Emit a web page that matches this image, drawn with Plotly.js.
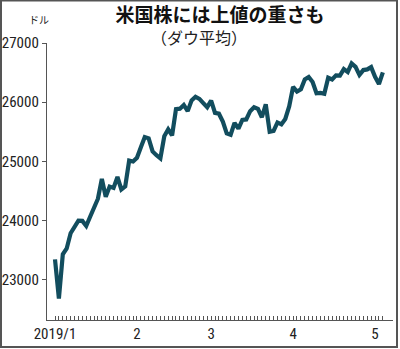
<!DOCTYPE html>
<html><head><meta charset="utf-8">
<script src="https://cdn.plot.ly/plotly-3.0.1.min.js"></script>
<style>html,body{margin:0;padding:0;background:#fff}#c{width:400px;height:349px}</style>
</head><body><div id="c"></div>
<script>
// Trading days (Jan 2 – May 3, 2019)
const dates = [
 "1/2","1/3","1/4","1/7","1/8","1/9","1/10","1/11","1/14","1/15","1/16","1/17","1/18","1/22","1/23","1/24","1/25","1/28","1/29","1/30","1/31",
 "2/1","2/4","2/5","2/6","2/7","2/8","2/11","2/12","2/13","2/14","2/15","2/19","2/20","2/21","2/22","2/25","2/26","2/27","2/28",
 "3/1","3/4","3/5","3/6","3/7","3/8","3/11","3/12","3/13","3/14","3/15","3/18","3/19","3/20","3/21","3/22","3/25","3/26","3/27","3/28","3/29",
 "4/1","4/2","4/3","4/4","4/5","4/8","4/9","4/10","4/11","4/12","4/15","4/16","4/17","4/18","4/22","4/23","4/24","4/25","4/26","4/29","4/30",
 "5/1","5/2","5/3"
];
const dow = [
 23346,22686,23433,23531,23787,23879,24001,23996,23910,24066,24207,24370,24706,24404,24575,24553,24737,24528,24579,25014,24999,
 25063,25239,25411,25390,25169,25106,25053,25425,25543,25439,25883,25891,25954,25850,26031,26091,26057,25985,25916,
 26026,25819,25806,25673,25473,25450,25650,25555,25702,25709,25849,25914,25887,25746,25963,25502,25516,25658,25626,25717,25929,
 26259,26180,26218,26385,26425,26341,26151,26158,26144,26413,26385,26453,26450,26559,26511,26656,26597,26462,26543,26554,26593,
 26430,26308,26505
];
const monthLabels = {"1/2":"2019/1","2/1":"2","3/1":"3","4/1":"4","5/1":"5"};
const yTicks = [23000,24000,25000,26000,27000];

const idx = dates.map((d,i)=>i);
const tickText = dates.map(d => monthLabels[d] || "");

const tickFont = {family:"Liberation Sans Narrow, Roboto Condensed, Noto Sans CJK JP, sans-serif", size:15, color:"#222"};

const trace = {
  x: idx, y: dow, type:"scatter", mode:"lines",
  line:{color:"#124d5e", width:4.2},
  hoverinfo:"skip"
};

const layout = {
  width:400, height:349,
  margin:{l:47, r:7, t:43, b:29},
  paper_bgcolor:"#fff", plot_bgcolor:"#fff",
  showlegend:false,
  xaxis:{
    range:[-2.05, 86.6], showgrid:false, zeroline:false,
    showline:true, linecolor:"#555", linewidth:1.2,
    tickmode:"array", tickvals:idx, ticktext:tickText,
    ticks:"inside", ticklen:4, tickwidth:1, tickcolor:"#555",
    tickfont:tickFont, tickangle:0
  },
  yaxis:{
    range:[22322, 27000], showgrid:false, zeroline:false,
    showline:true, linecolor:"#555", linewidth:1.2,
    tickmode:"array", tickvals:yTicks, ticktext:yTicks.map(String),
    ticks:"outside", ticklen:4, tickwidth:1, tickcolor:"#555",
    tickfont:tickFont
  },
  title:{text:"<b>米国株には上値の重さも</b>", font:{family:"Noto Sans CJK JP", size:19, color:"#111"}, x:0.5, xref:"paper", xanchor:"center", y:0.955, yanchor:"middle"},
  annotations:[
    {text:"（ダウ平均）", xref:"paper", yref:"paper", x:0.44, y:1.0 + (43-37)/277, xanchor:"center", yanchor:"middle", showarrow:false, font:{family:"Noto Sans CJK JP", size:16, color:"#222"}},
    {text:"ドル", xref:"paper", yref:"paper", x:(39-47)/346, y:1.0 + (43-19)/277, xanchor:"center", yanchor:"middle", showarrow:false, font:{family:"Noto Sans CJK JP", size:10, color:"#222"}}
  ],
  shapes:[
    {type:"rect", xref:"paper", yref:"paper", x0:(1-47)/346, x1:(397-47)/346, y0:(320-347)/277, y1:(320-0.5)/277, line:{color:"#555", width:2}, fillcolor:"rgba(0,0,0,0)", layer:"above"}
  ]
};

Plotly.newPlot("c", [trace], layout, {staticPlot:true, displayModeBar:false});
</script>
</body></html>
